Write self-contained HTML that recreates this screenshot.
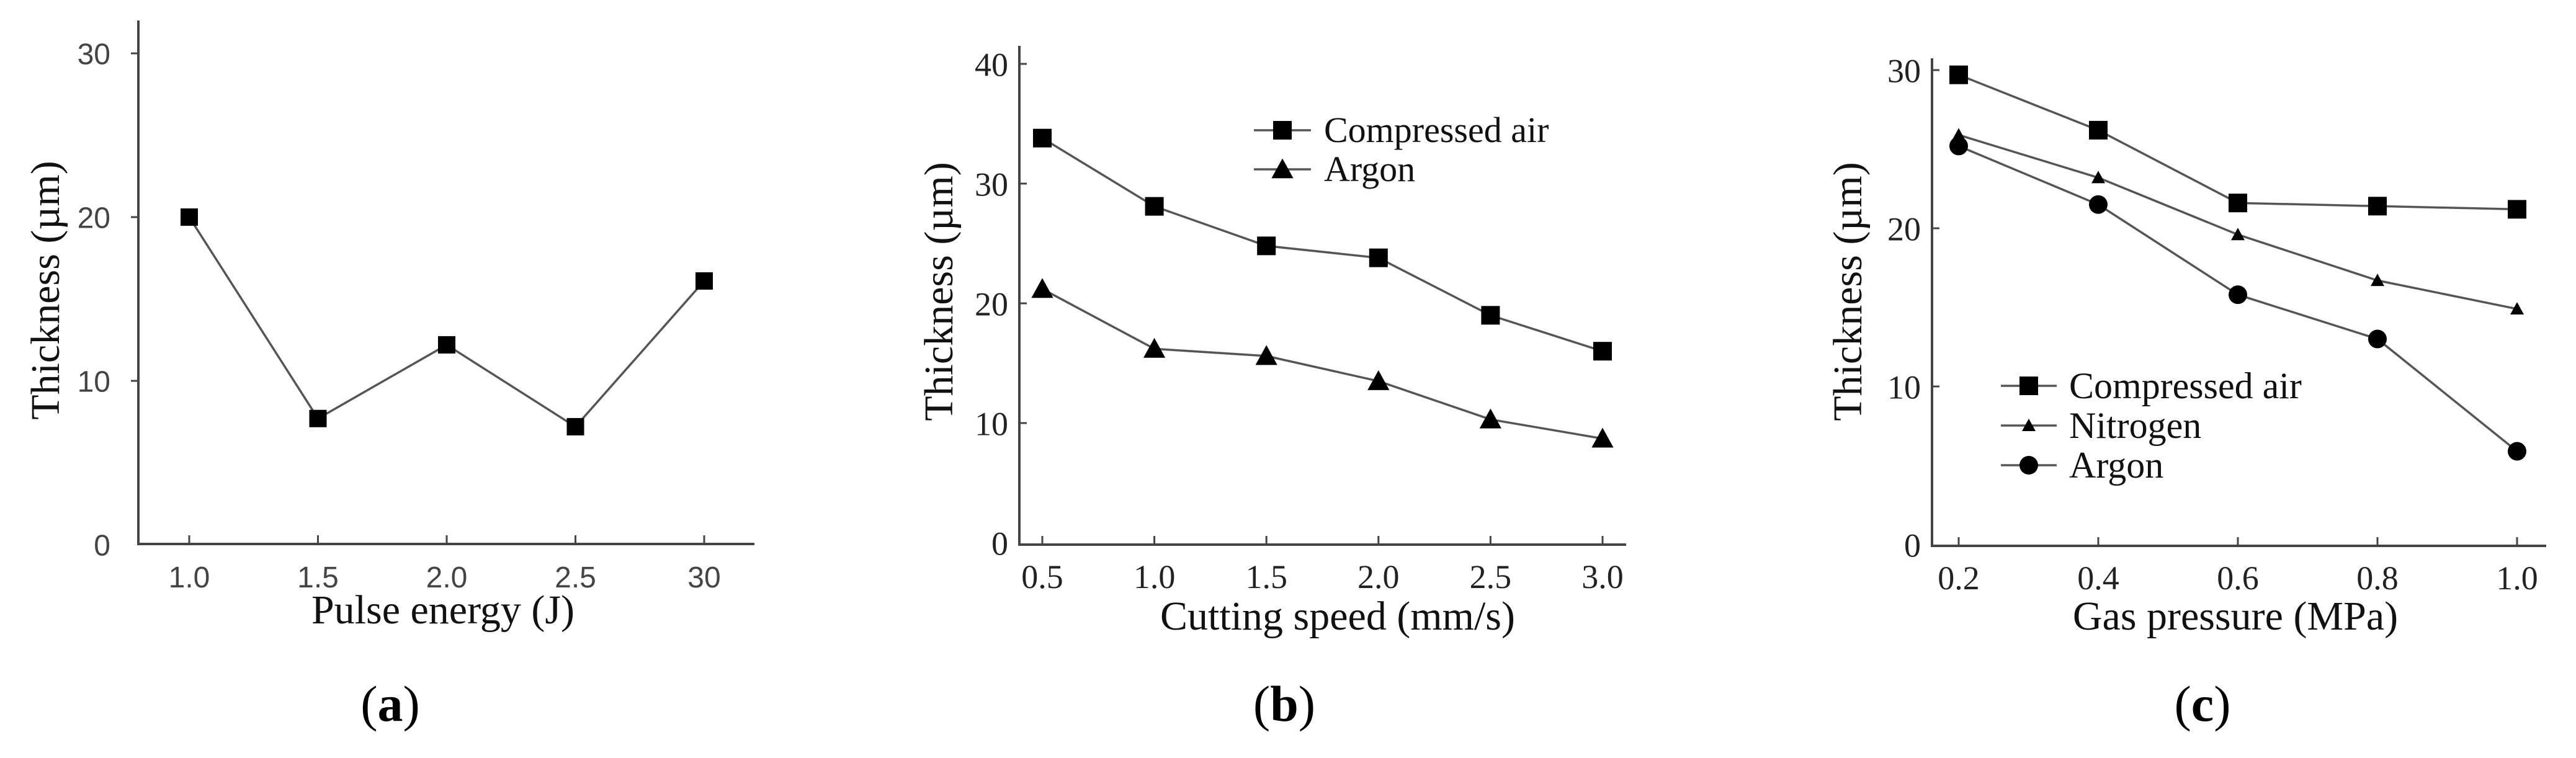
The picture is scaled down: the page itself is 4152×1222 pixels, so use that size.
<!DOCTYPE html>
<html><head><meta charset="utf-8">
<style>
html,body{margin:0;padding:0;background:#fff;}
svg{display:block;}
.serif{font-family:"Liberation Serif",serif;}
.sans{font-family:"Liberation Sans",sans-serif;}
</style></head>
<body>
<svg id="fig" width="4152" height="1222" viewBox="0 0 4152 1222" xmlns="http://www.w3.org/2000/svg"></svg>
<script>
// ---- Panel (a) data ----
const aCategories = ["1.0","1.5","2.0","2.5","30"];
const aThickness = [20, 7.7, 12.2, 7.2, 16.1];
const aYTicks = [0, 10, 20, 30];
// ---- Panel (b) data ----
const bCategories = ["0.5","1.0","1.5","2.0","2.5","3.0"];
const bCompressedAir = [33.8, 28.1, 24.8, 23.8, 19.0, 16.0];
const bArgon = [21.2, 16.2, 15.6, 13.5, 10.3, 8.7];
const bYTicks = [0, 10, 20, 30, 40];
// ---- Panel (c) data ----
const cCategories = ["0.2","0.4","0.6","0.8","1.0"];
const cCompressedAir = [29.7, 26.2, 21.6, 21.4, 21.2];
const cNitrogen = [25.9, 23.2, 19.6, 16.7, 14.9];
const cArgon = [25.2, 21.5, 15.8, 13.0, 5.9];
const cYTicks = [0, 10, 20, 30];

const NS = "http://www.w3.org/2000/svg";
const svg = document.getElementById("fig");
function mk(tag, attrs, parent){
  const e = document.createElementNS(NS, tag);
  for (const k in attrs) e.setAttribute(k, attrs[k]);
  (parent||svg).appendChild(e);
  return e;
}
function txt(str, attrs, parent){ const t = mk("text", attrs, parent); t.textContent = str; return t; }

function marker(g, type, x, y, s){
  let m;
  if (type === "square") m = mk("rect", {x:x-s/2, y:y-s/2, width:s, height:s, fill:"#000"}, g);
  else if (type === "triangle") m = mk("polygon", {points:`${x},${y-s*0.55} ${x-s*0.55},${y+s*0.45} ${x+s*0.55},${y+s*0.45}`, fill:"#000"}, g);
  else m = mk("circle", {cx:x, cy:y, r:s/2, fill:"#000"}, g);
  return m;
}

function panel(cfg){
  const g = mk("g", {});
  
  
  const xs = i => cfg.x0 + i * cfg.xStep;
  const ys = v => cfg.yZero - v * cfg.yPer;
  // axes
  const ax = mk("path", {d:`M${cfg.axX},${cfg.axTop} L${cfg.axX},${cfg.yAxis} L${cfg.axRight},${cfg.yAxis}`, fill:"none", stroke:"#444", "stroke-width":4}, g);
  
  
  // y ticks
  cfg.yTicks.forEach(v => {
    const y = ys(v);
    if (v !== 0) mk("line", {x1:cfg.axX, x2:cfg.axX + cfg.yTickDir*12, y1:y, y2:y, stroke:"#444", "stroke-width":3}, g);
    const t = txt(String(v), {x:cfg.axX - cfg.yLabGap, y:y + cfg.tickFont*0.36, "text-anchor":"end", "font-size":cfg.tickFont, fill:cfg.tickColor, class:cfg.tickClass}, g);
    
    
  });
  // x ticks
  cfg.cats.forEach((c, i) => {
    const x = xs(i);
    mk("line", {x1:x, x2:x, y1:cfg.yAxis, y2:cfg.yAxis - 14, stroke:"#444", "stroke-width":3}, g);
    const t = txt(c, {x:x, y:cfg.xLabY, "text-anchor":"middle", "font-size":cfg.tickFont, fill:cfg.tickColor, class:cfg.tickClass}, g);
    
    
  });
  // series
  cfg.series.forEach(s => {
    const sg = mk("g", {}, g);
    
    
    const pts = s.values.map((v, i) => `${xs(i)},${ys(v)}`).join(" ");
    mk("polyline", {points:pts, fill:"none", stroke:"#555", "stroke-width":3.5}, sg);
    s.values.forEach((v, i) => {
      const m = marker(sg, s.marker, xs(i), ys(v), s.size);
      
      
    });
  });
  // legend
  if (cfg.legend) {
    const lg = mk("g", {}, g);
    
    
    cfg.series.forEach((s, i) => {
      const y = cfg.legend.y + i * cfg.legend.dy;
      const eg = mk("g", {}, lg);
      
      
      mk("line", {x1:cfg.legend.x1, x2:cfg.legend.x2, y1:y, y2:y, stroke:"#555", "stroke-width":3.5}, eg);
      marker(eg, s.marker, (cfg.legend.x1 + cfg.legend.x2) / 2, y, s.lsize || s.size);
      txt(s.label, {x:cfg.legend.tx, y:y + cfg.legend.font*0.33, "font-size":cfg.legend.font, fill:"#111", class:"serif"}, eg);
    });
  }
  // axis titles
  const xt = txt(cfg.xTitle, {x:cfg.xTitleX, y:cfg.xTitleY, "text-anchor":"middle", "font-size":66, fill:"#111", class:"serif"}, g);
  
  
  const yt = txt("Thickness (µm)", {x:0, y:0, "text-anchor":"middle", "font-size":66, fill:"#111", class:"serif", transform:`translate(${cfg.yTitleX},${cfg.yTitleY}) rotate(-90)`}, g);
  
  
  // caption
  const cap = mk("text", {x:cfg.capX, y:1162, "text-anchor":"middle", "font-size":82, fill:"#000", class:"serif"}, g);
  
  
  const p1 = document.createElementNS(NS, "tspan"); p1.textContent = "("; cap.appendChild(p1);
  const p2 = document.createElementNS(NS, "tspan"); p2.setAttribute("font-weight", "bold"); p2.textContent = cfg.capLetter; cap.appendChild(p2);
  const p3 = document.createElementNS(NS, "tspan"); p3.textContent = ")"; cap.appendChild(p3);
}

panel({
  name:"panel-a-pulse-energy", cats:aCategories, yTicks:aYTicks,
  axX:223, axTop:33, axRight:1216, yAxis:877, yZero:878, yPer:26.4,
  x0:305, xStep:207.5, yTickDir:-1, yLabGap:45, tickFont:48, tickColor:"#444", tickClass:"sans",
  xLabY:947,
  series:[{name:"series-thickness", label:"", values:aThickness, marker:"square", size:28}],
  xTitle:"Pulse energy (J)", xTitleX:714, xTitleY:1005, yTitleX:95, yTitleY:468,
  capX:629, capLetter:"a"
});
panel({
  name:"panel-b-cutting-speed", cats:bCategories, yTicks:bYTicks,
  axX:1643, axTop:74, axRight:2621, yAxis:878, yZero:875, yPer:19.3,
  x0:1680, xStep:180.6, yTickDir:1, yLabGap:18, tickFont:54, tickColor:"#222", tickClass:"serif",
  xLabY:948,
  series:[
    {name:"series-compressed-air", label:"Compressed air", values:bCompressedAir, marker:"square", size:30},
    {name:"series-argon", label:"Argon", values:bArgon, marker:"triangle", size:32}
  ],
  legend:{x1:2021, x2:2113, y:210, dy:63, tx:2134, font:58},
  xTitle:"Cutting speed (mm/s)", xTitleX:2156, xTitleY:1015, yTitleX:1535, yTitleY:470,
  capX:2070, capLetter:"b"
});
panel({
  name:"panel-c-gas-pressure", cats:cCategories, yTicks:cYTicks,
  axX:3114, axTop:94, axRight:4104, yAxis:880, yZero:878, yPer:25.5,
  x0:3157, xStep:225, yTickDir:1, yLabGap:18, tickFont:54, tickColor:"#222", tickClass:"serif",
  xLabY:950,
  series:[
    {name:"series-compressed-air", label:"Compressed air", values:cCompressedAir, marker:"square", size:30},
    {name:"series-nitrogen", label:"Nitrogen", values:cNitrogen, marker:"triangle", size:20},
    {name:"series-argon", label:"Argon", values:cArgon, marker:"circle", size:30}
  ],
  legend:{x1:3225, x2:3315, y:622, dy:64, tx:3335, font:60},
  xTitle:"Gas pressure (MPa)", xTitleX:3603, xTitleY:1015, yTitleX:3000, yTitleY:470,
  capX:3550, capLetter:"c"
});
</script>
</body></html>
